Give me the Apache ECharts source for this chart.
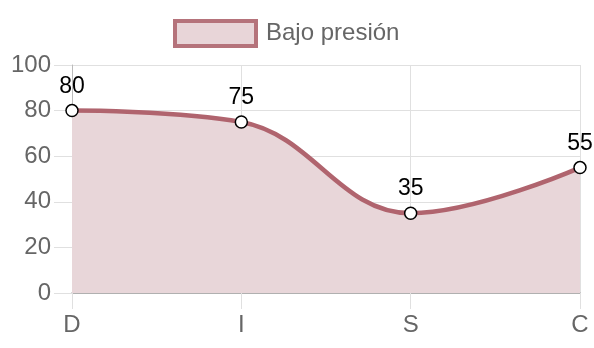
<!DOCTYPE html>
<html><head><meta charset="utf-8">
<script src="https://cdn.jsdelivr.net/npm/echarts@6/dist/echarts.min.js"></script>
<style>html,body{margin:0;padding:0;background:#fff}#c{width:594px;height:348px}</style>
</head><body><div id="c"></div>
<script>
var categories = ['D', 'I', 'S', 'C'];
var values = [80, 75, 35, 55];
var seriesName = 'Bajo presión';
var yTicks = {min: 0, max: 100, interval: 20};

var chart = echarts.init(document.getElementById('c'), null, {renderer: 'canvas'});
var font = 'Helvetica, Arial, "Liberation Sans", sans-serif';
chart.setOption({
  animation: false,
  textStyle: {fontFamily: font},
  legend: {
    left: 173, top: 19, padding: 0,
    itemWidth: 81, itemHeight: 25,
    icon: 'rect',
    itemStyle: {color: '#e8d5d8', borderColor: '#b5737b', borderWidth: 4, opacity: 1},
    textStyle: {fontSize: 24, color: '#666', fontFamily: font, padding: [0, 0, 0, 5]},
    data: [seriesName]
  },
  grid: {left: 72, right: 14, top: 65, bottom: 55, containLabel: false},
  xAxis: {
    type: 'category', data: categories, boundaryGap: false,
    axisLine: {show: true, lineStyle: {color: '#a0a0a0', width: 1.5}},
    axisTick: {show: true, alignWithLabel: true, length: 16, lineStyle: {color: '#e0e0e0'}},
    splitLine: {show: true, lineStyle: {color: '#e0e0e0', width: 1}},
    axisLabel: {fontSize: 24, color: '#666', margin: 20, fontFamily: font}
  },
  yAxis: {
    type: 'value', min: yTicks.min, max: yTicks.max, interval: yTicks.interval,
    axisLine: {show: true, lineStyle: {color: '#bbb', width: 1}},
    axisTick: {show: true, length: 18, lineStyle: {color: '#e0e0e0'}},
    splitLine: {show: true, lineStyle: {color: '#e0e0e0', width: 1}},
    axisLabel: {fontSize: 24, color: '#666', margin: 21, fontFamily: font}
  },
  series: [{
    name: seriesName, type: 'line', data: values, smooth: 0.4,
    symbol: 'circle', symbolSize: 12,
    itemStyle: {color: '#fff', borderColor: '#000', borderWidth: 1.5},
    lineStyle: {color: '#b0646e', width: 4.5},
    areaStyle: {color: '#e8d6d9', opacity: 1, origin: 'start'},
    label: {show: true, position: 'top', distance: 6, fontSize: 23, color: '#000', fontFamily: font},
    z: 3
  }]
});
</script></body></html>
